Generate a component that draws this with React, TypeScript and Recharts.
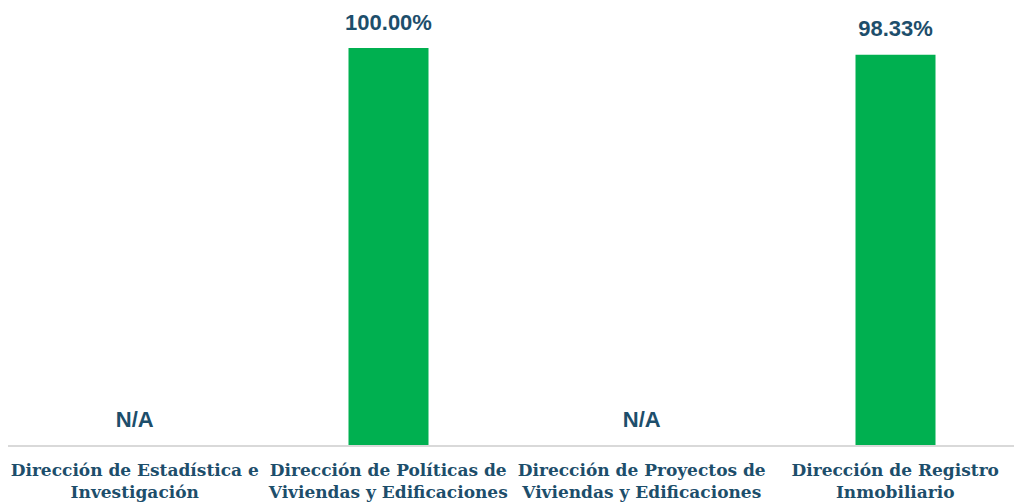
import React from "react";
import { BarChart, Bar, XAxis, YAxis, LabelList } from "recharts";

const categories = [
  "Dirección de Estadística e|Investigación",
  "Dirección de Políticas de|Viviendas y Edificaciones",
  "Dirección de Proyectos de|Viviendas y Edificaciones",
  "Dirección de Registro|Inmobiliario",
];
const values: (number | null)[] = [null, 100, null, 98.33];
const valueLabels = ["N/A", "100.00%", "N/A", "98.33%"];

const data = categories.map((c, i) => ({
  name: c,
  value: values[i],
  label: valueLabels[i],
}));

const TEXT_COLOR = "#1d4e6b";
const LABEL_FONT = "'Liberation Sans', Arial, sans-serif";

const CategoryTick = (props: any) => {
  const { x, y, payload, index } = props;
  const lines = String(payload.value).split("|");
  const missing = values[index] == null;
  return (
    <g>
      {missing && (
        <text
          x={x}
          y={y - 19}
          textAnchor="middle"
          fill={TEXT_COLOR}
          fontFamily={LABEL_FONT}
          fontWeight="bold"
          fontSize={22}
        >
          {valueLabels[index]}
        </text>
      )}
      {lines.map((l, i) => (
        <text
          key={i}
          x={x}
          y={y + 30 + i * 22}
          textAnchor="middle"
          fill={TEXT_COLOR}
          fontFamily="'DejaVu Serif', serif"
          fontWeight="bold"
          fontSize={17}
        >
          {l}
        </text>
      ))}
    </g>
  );
};

const ValueLabel = (props: any) => {
  const { x, y, width, value } = props;
  if (value == null) return null;
  return (
    <text
      x={x + width / 2}
      y={y - 18.5}
      textAnchor="middle"
      fill={TEXT_COLOR}
      fontFamily={LABEL_FONT}
      fontWeight="bold"
      fontSize={22}
    >
      {value}
    </text>
  );
};

export default function App() {
  return (
    <div
      style={{
        position: "fixed",
        left: 0,
        top: 0,
        width: 1014,
        height: 503,
        overflow: "hidden",
        background: "#ffffff",
      }}
    >
      <BarChart
        width={1022}
        height={503}
        data={data}
        margin={{ top: 48, right: 0, bottom: 0, left: 8 }}
      >
        <XAxis
          dataKey="name"
          height={57}
          tickLine={false}
          tickSize={0}
          tickMargin={0}
          interval={0}
          axisLine={{ stroke: "#d9d9d9", strokeWidth: 2 }}
          tick={<CategoryTick />}
        />
        <YAxis hide domain={[0, 100]} />
        <Bar dataKey="value" fill="#00b050" barSize={80} isAnimationActive={false}>
          <LabelList dataKey="label" content={<ValueLabel />} />
        </Bar>
      </BarChart>
    </div>
  );
}
